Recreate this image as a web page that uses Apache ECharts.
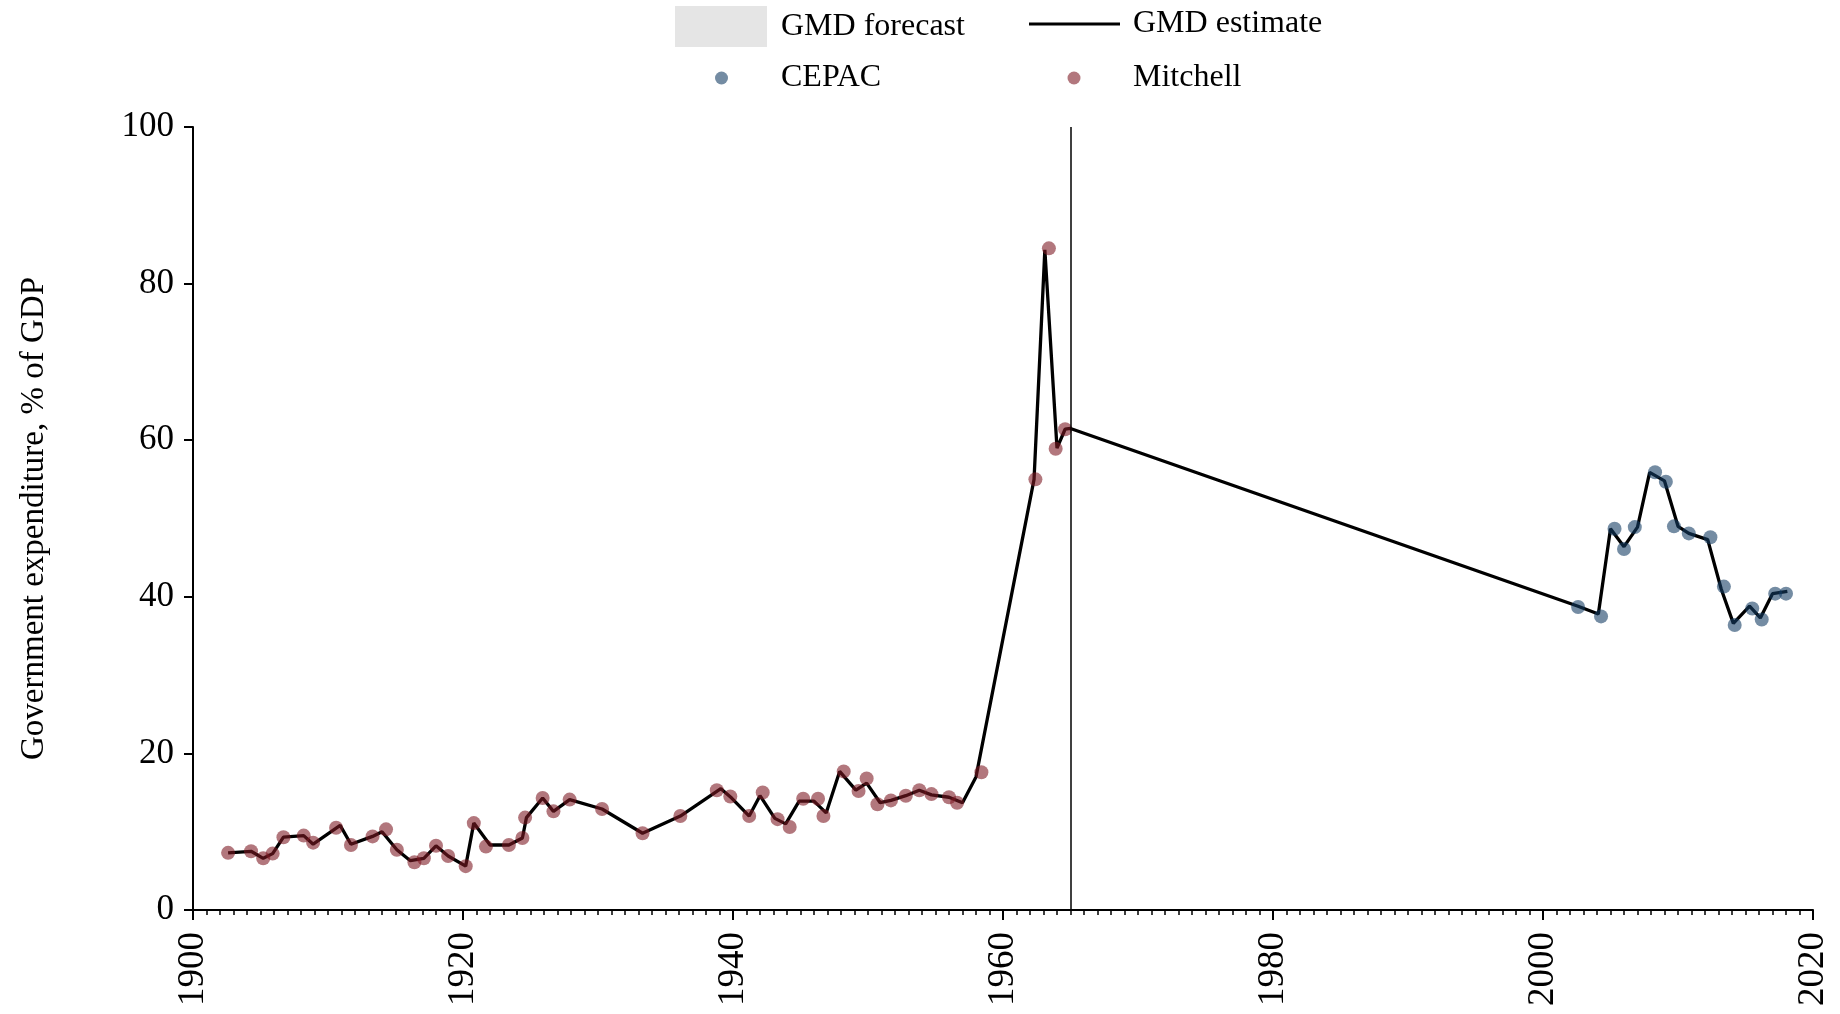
<!DOCTYPE html>
<html>
<head>
<meta charset="utf-8">
<script src="https://cdn.jsdelivr.net/npm/echarts@6/dist/echarts.min.js"></script>
<style>
html,body{margin:0;padding:0;background:#fff;}
#chart{width:1840px;height:1014px;}
</style>
</head>
<body>
<div id="chart"></div>
<script>
// ---- Data ----
const xTickLabels = [1900, 1920, 1940, 1960, 1980, 2000, 2020];
const yTickLabels = [0, 20, 40, 60, 80, 100];

const mitchellYears = [1902.6,1904.3,1905.2,1905.9,1906.7,1908.2,1908.9,1910.6,1911.7,1913.3,1914.3,1915.1,1916.4,1917.1,1918.0,1918.9,1920.2,1920.8,1921.7,1923.4,1924.4,1924.6,1925.9,1926.7,1927.9,1930.3,1933.3,1936.1,1938.8,1939.8,1941.2,1942.2,1943.3,1944.2,1945.2,1946.3,1946.7,1948.2,1949.3,1949.9,1950.7,1951.7,1952.8,1953.8,1954.7,1956.0,1956.6,1958.4,1962.4,1963.4,1963.9,1964.6];
const mitchellValues = [7.3,7.5,6.6,7.2,9.3,9.5,8.6,10.5,8.3,9.4,10.3,7.7,6.1,6.6,8.2,6.9,5.6,11.1,8.1,8.3,9.2,11.8,14.3,12.6,14.1,12.9,9.8,12.0,15.3,14.5,12.0,15.0,11.6,10.6,14.2,14.2,12.0,17.7,15.2,16.8,13.5,14.0,14.6,15.3,14.8,14.4,13.7,17.6,55.0,84.5,58.9,61.4];

const cepacYears = [2002.6,2004.3,2005.3,2006.0,2006.8,2008.3,2009.1,2009.7,2010.8,2012.4,2013.4,2014.2,2015.5,2016.2,2017.2,2018.0];
const cepacValues = [38.7,37.5,48.7,46.1,48.9,55.9,54.7,49.0,48.1,47.6,41.3,36.4,38.5,37.1,40.4,40.4];

const estimateYears = [1902.6,1904.3,1905.2,1905.9,1906.7,1908.2,1908.9,1910.9,1911.7,1913.3,1914.0,1915.1,1916.1,1917.1,1918.0,1918.9,1920.2,1920.8,1922.0,1923.4,1924.4,1924.7,1925.9,1926.7,1927.9,1930.3,1933.3,1936.1,1939.1,1939.9,1941.2,1942.0,1943.1,1943.9,1944.9,1946.0,1946.9,1947.9,1949.1,1949.9,1950.9,1951.7,1952.8,1953.8,1954.7,1956.0,1957.0,1958.0,1962.3,1963.1,1964.0,1964.6,1965.0,2002.6,2004.1,2005.0,2006.0,2007.0,2007.9,2009.0,2010.0,2010.8,2012.2,2013.2,2014.1,2015.3,2016.1,2017.0,2018.1];
const estimateValues = [7.3,7.5,6.6,7.2,9.3,9.5,8.4,10.8,8.4,9.4,10.0,7.7,6.3,6.6,8.2,6.9,5.6,11.1,8.3,8.3,9.2,11.8,14.3,12.6,14.1,12.9,9.8,12.0,15.5,14.3,12.0,14.6,11.7,11.0,13.9,13.9,12.4,17.7,15.3,16.2,13.7,14.0,14.6,15.3,14.7,14.4,13.7,17.0,55.0,84.3,59.0,61.4,61.5,38.8,37.8,48.7,46.4,48.9,55.9,54.8,49.0,48.1,47.3,41.0,36.6,38.8,37.3,40.4,40.7];

const forecastBoundaryYear = 1965;

// ---- Chart ----
const FONT = '"Liberation Serif", "Times New Roman", serif';
const chart = echarts.init(document.getElementById('chart'), null, {renderer: 'canvas'});

const toPairs = (xs, ys) => xs.map((x, i) => [x, ys[i]]);

const MITCHELL_COLOR = 'rgba(125,25,35,0.74)';
const CEPAC_COLOR = 'rgba(20,60,100,0.74)';

function legendText(padLeft) {
  return {fontFamily: FONT, fontSize: 32, color: '#000', padding: [8, 0, 0, padLeft]};
}

const option = {
  backgroundColor: '#fff',
  animation: false,
  textStyle: {fontFamily: FONT, color: '#000'},
  grid: {left: 193, right: 27, top: 127, bottom: 104, containLabel: false},
  legend: [
    {data: [{name: 'GMD forecast', icon: 'rect', itemStyle: {color: '#e5e5e5'}}],
     left: 675, top: 6, padding: 0, itemWidth: 92, itemHeight: 41,
     textStyle: legendText(9), selectedMode: false},
    {data: [{name: 'GMD estimate', icon: 'rect', itemStyle: {color: '#000'}}],
     left: 1029, top: 8, padding: 0, itemWidth: 91, itemHeight: 3,
     textStyle: legendText(8), selectedMode: false},
    {data: [{name: 'CEPAC', icon: 'circle', itemStyle: {color: CEPAC_COLOR}}],
     left: 715, top: 62, padding: 0, itemWidth: 13, itemHeight: 13,
     textStyle: legendText(48), selectedMode: false},
    {data: [{name: 'Mitchell', icon: 'circle', itemStyle: {color: MITCHELL_COLOR}}],
     left: 1067.5, top: 62, padding: 0, itemWidth: 13, itemHeight: 13,
     textStyle: legendText(47.5), selectedMode: false}
  ],
  xAxis: {
    type: 'value', min: xTickLabels[0], max: xTickLabels[xTickLabels.length - 1], interval: 20,
    axisLine: {show: true, lineStyle: {color: '#000', width: 2}},
    axisTick: {show: true, length: 10, lineStyle: {color: '#000', width: 2}},
    minorTick: {show: true, splitNumber: 20, length: 5, lineStyle: {color: '#000', width: 1.5}},
    splitLine: {show: false}, minorSplitLine: {show: false},
    axisLabel: {rotate: 90, fontFamily: FONT, fontSize: 37, color: '#000', margin: 22,
                formatter: v => String(v)}
  },
  yAxis: {
    type: 'value', min: yTickLabels[0], max: yTickLabels[yTickLabels.length - 1], interval: 20,
    name: 'Government expenditure, % of GDP', nameLocation: 'middle', nameGap: 142,
    nameTextStyle: {fontFamily: FONT, fontSize: 33, color: '#000'},
    axisLine: {show: true, lineStyle: {color: '#000', width: 2}},
    axisTick: {show: true, length: 9, lineStyle: {color: '#000', width: 2}},
    splitLine: {show: false},
    axisLabel: {fontFamily: FONT, fontSize: 35, color: '#000', margin: 19,
                formatter: v => String(v)}
  },
  series: [
    {name: 'GMD forecast', type: 'line', data: [], itemStyle: {color: '#e5e5e5'}},
    {
      name: 'GMD estimate', type: 'line', data: toPairs(estimateYears, estimateValues),
      showSymbol: false, symbol: 'none', z: 2,
      lineStyle: {color: '#000', width: 3.3}, itemStyle: {color: '#000'},
      markLine: {
        silent: true, symbol: ['none', 'none'], label: {show: false},
        lineStyle: {color: '#000', width: 1.5, type: 'solid'},
        data: [{xAxis: forecastBoundaryYear}]
      }
    },
    {
      name: 'CEPAC', type: 'scatter', data: toPairs(cepacYears, cepacValues),
      symbol: 'circle', symbolSize: 14, z: 3,
      itemStyle: {color: CEPAC_COLOR}
    },
    {
      name: 'Mitchell', type: 'scatter', data: toPairs(mitchellYears, mitchellValues),
      symbol: 'circle', symbolSize: 14, z: 3,
      itemStyle: {color: MITCHELL_COLOR}
    }
  ]
};
chart.setOption(option);
</script>
</body>
</html>
